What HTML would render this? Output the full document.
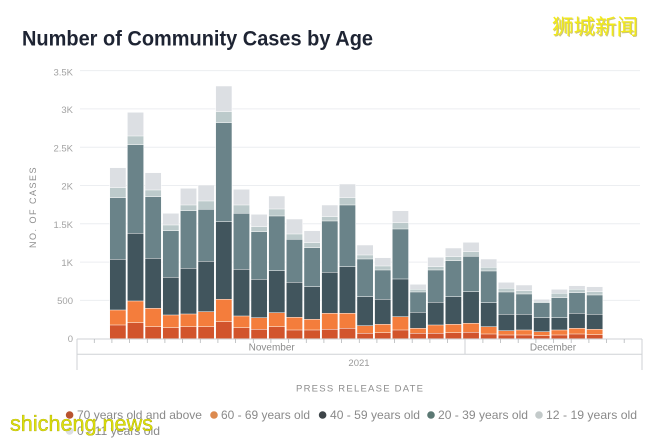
<!DOCTYPE html>
<html>
<head>
<meta charset="utf-8">
<style>
  html,body{margin:0;padding:0;background:#ffffff;}
  svg{display:block;}
  .a{fill:#dcdfe3;}
  .b{fill:#bccacb;}
  .c{fill:#6a8389;}
  .d{fill:#41555d;}
  .e{fill:#f47d3c;}
  .f{fill:#d2542c;}
  .bars rect{stroke:#ffffff;stroke-width:0.5;}
  .yl{font-family:"Liberation Sans",sans-serif;font-size:9.5px;fill:#a3a3a3;text-anchor:end;}
  .lg{font-family:"Liberation Sans",sans-serif;font-size:12px;fill:#8a8a8a;}
</style>
</head>
<body>
<svg width="650" height="441" viewBox="0 0 650 441" xmlns="http://www.w3.org/2000/svg">
  <rect x="0" y="0" width="650" height="441" fill="#ffffff"/>

  <!-- Title -->
  <text x="22" y="45.7" font-family="Liberation Sans, sans-serif" font-weight="bold" font-size="21" fill="#1e2433" textLength="351" lengthAdjust="spacingAndGlyphs">Number of Community Cases by Age</text>

  <!-- Watermark top right -->
  <text x="553" y="35" font-family="Liberation Sans, Noto Sans CJK SC, sans-serif" font-size="21" fill="#9a8a00" opacity="0.5" textLength="86" lengthAdjust="spacingAndGlyphs">狮城新闻</text>
  <text x="552" y="34" font-family="Liberation Sans, Noto Sans CJK SC, sans-serif" font-size="21" fill="#f2ea18" textLength="86" lengthAdjust="spacingAndGlyphs">狮城新闻</text>

  <!-- Gridlines -->
  <g stroke="#eceef1" stroke-width="1">
    <line x1="80" y1="300.4" x2="640" y2="300.4"/>
    <line x1="80" y1="262.1" x2="640" y2="262.1"/>
    <line x1="80" y1="223.8" x2="640" y2="223.8"/>
    <line x1="80" y1="185.5" x2="640" y2="185.5"/>
    <line x1="80" y1="147.2" x2="640" y2="147.2"/>
    <line x1="80" y1="108.9" x2="640" y2="108.9"/>
    <line x1="80" y1="70.6" x2="640" y2="70.6"/>
  </g>

  <!-- Y labels -->
  <text class="yl" x="73" y="342">0</text>
  <text class="yl" x="73" y="304">500</text>
  <text class="yl" x="73" y="266">1K</text>
  <text class="yl" x="73" y="228">1.5K</text>
  <text class="yl" x="73" y="189.5">2K</text>
  <text class="yl" x="73" y="151.5">2.5K</text>
  <text class="yl" x="73" y="113">3K</text>
  <text class="yl" x="73" y="75.5">3.5K</text>

  <text transform="translate(36,207) rotate(-90)" text-anchor="middle" font-family="Liberation Sans, sans-serif" font-size="9" fill="#8e8e8e" letter-spacing="1.5">NO. OF CASES</text>

  <!-- Bars -->
  <g class="bars">
    <g transform="translate(109.7,0)">
      <rect class="a" x="0" width="16.3" y="167.7" height="171"/>
      <rect class="b" x="0" width="16.3" y="187.7" height="151"/>
      <rect class="c" x="0" width="16.3" y="197.7" height="141"/>
      <rect class="d" x="0" width="16.3" y="259.3" height="79.4"/>
      <rect class="e" x="0" width="16.3" y="310" height="28.7"/>
      <rect class="f" x="0" width="16.3" y="325" height="13.7"/>
    </g>
    <g transform="translate(127.36,0)">
      <rect class="a" x="0" width="16.3" y="112.3" height="226.4"/>
      <rect class="b" x="0" width="16.3" y="136" height="202.7"/>
      <rect class="c" x="0" width="16.3" y="144.7" height="194"/>
      <rect class="d" x="0" width="16.3" y="233.3" height="105.4"/>
      <rect class="e" x="0" width="16.3" y="301" height="37.7"/>
      <rect class="f" x="0" width="16.3" y="322.7" height="16"/>
    </g>
    <g transform="translate(145.02,0)">
      <rect class="a" x="0" width="16.3" y="172.7" height="166"/>
      <rect class="b" x="0" width="16.3" y="190" height="148.7"/>
      <rect class="c" x="0" width="16.3" y="196.7" height="142"/>
      <rect class="d" x="0" width="16.3" y="258.3" height="80.4"/>
      <rect class="e" x="0" width="16.3" y="308.3" height="30.4"/>
      <rect class="f" x="0" width="16.3" y="326.7" height="12"/>
    </g>
    <g transform="translate(162.68,0)">
      <rect class="a" x="0" width="16.3" y="213.3" height="125.4"/>
      <rect class="b" x="0" width="16.3" y="225" height="113.7"/>
      <rect class="c" x="0" width="16.3" y="230.7" height="108"/>
      <rect class="d" x="0" width="16.3" y="277.3" height="61.4"/>
      <rect class="e" x="0" width="16.3" y="315" height="23.7"/>
      <rect class="f" x="0" width="16.3" y="327.7" height="11"/>
    </g>
    <g transform="translate(180.34,0)">
      <rect class="a" x="0" width="16.3" y="188.3" height="150.4"/>
      <rect class="b" x="0" width="16.3" y="205" height="133.7"/>
      <rect class="c" x="0" width="16.3" y="210.7" height="128"/>
      <rect class="d" x="0" width="16.3" y="268.3" height="70.4"/>
      <rect class="e" x="0" width="16.3" y="314" height="24.7"/>
      <rect class="f" x="0" width="16.3" y="326.7" height="12"/>
    </g>
    <g transform="translate(198.0,0)">
      <rect class="a" x="0" width="16.3" y="185" height="153.7"/>
      <rect class="b" x="0" width="16.3" y="201" height="137.7"/>
      <rect class="c" x="0" width="16.3" y="209.3" height="129.4"/>
      <rect class="d" x="0" width="16.3" y="261.3" height="77.4"/>
      <rect class="e" x="0" width="16.3" y="311.7" height="27"/>
      <rect class="f" x="0" width="16.3" y="326.7" height="12"/>
    </g>
    <g transform="translate(215.66,0)">
      <rect class="a" x="0" width="16.3" y="86" height="252.7"/>
      <rect class="b" x="0" width="16.3" y="111.7" height="227"/>
      <rect class="c" x="0" width="16.3" y="122.7" height="216"/>
      <rect class="d" x="0" width="16.3" y="221.7" height="117"/>
      <rect class="e" x="0" width="16.3" y="299.3" height="39.4"/>
      <rect class="f" x="0" width="16.3" y="321.7" height="17"/>
    </g>
    <g transform="translate(233.32,0)">
      <rect class="a" x="0" width="16.3" y="189.3" height="149.4"/>
      <rect class="b" x="0" width="16.3" y="205" height="133.7"/>
      <rect class="c" x="0" width="16.3" y="213.3" height="125.4"/>
      <rect class="d" x="0" width="16.3" y="269.3" height="69.4"/>
      <rect class="e" x="0" width="16.3" y="316" height="22.7"/>
      <rect class="f" x="0" width="16.3" y="327.7" height="11"/>
    </g>
    <g transform="translate(250.98,0)">
      <rect class="a" x="0" width="16.3" y="214.3" height="124.4"/>
      <rect class="b" x="0" width="16.3" y="226.7" height="112"/>
      <rect class="c" x="0" width="16.3" y="231.7" height="107"/>
      <rect class="d" x="0" width="16.3" y="279.3" height="59.4"/>
      <rect class="e" x="0" width="16.3" y="317.7" height="21"/>
      <rect class="f" x="0" width="16.3" y="329.3" height="9.4"/>
    </g>
    <g transform="translate(268.64,0)">
      <rect class="a" x="0" width="16.3" y="196" height="142.7"/>
      <rect class="b" x="0" width="16.3" y="209" height="129.7"/>
      <rect class="c" x="0" width="16.3" y="216" height="122.7"/>
      <rect class="d" x="0" width="16.3" y="270.7" height="68"/>
      <rect class="e" x="0" width="16.3" y="312.7" height="26"/>
      <rect class="f" x="0" width="16.3" y="326.7" height="12"/>
    </g>
    <g transform="translate(286.3,0)">
      <rect class="a" x="0" width="16.3" y="219" height="119.7"/>
      <rect class="b" x="0" width="16.3" y="234" height="104.7"/>
      <rect class="c" x="0" width="16.3" y="239.3" height="99.4"/>
      <rect class="d" x="0" width="16.3" y="282.3" height="56.4"/>
      <rect class="e" x="0" width="16.3" y="317.3" height="21.4"/>
      <rect class="f" x="0" width="16.3" y="330" height="8.7"/>
    </g>
    <g transform="translate(303.96,0)">
      <rect class="a" x="0" width="16.3" y="230.7" height="108"/>
      <rect class="b" x="0" width="16.3" y="242.7" height="96"/>
      <rect class="c" x="0" width="16.3" y="247.7" height="91"/>
      <rect class="d" x="0" width="16.3" y="286.7" height="52"/>
      <rect class="e" x="0" width="16.3" y="319.3" height="19.4"/>
      <rect class="f" x="0" width="16.3" y="330" height="8.7"/>
    </g>
    <g transform="translate(321.62,0)">
      <rect class="a" x="0" width="16.3" y="205" height="133.7"/>
      <rect class="b" x="0" width="16.3" y="216.7" height="122"/>
      <rect class="c" x="0" width="16.3" y="221" height="117.7"/>
      <rect class="d" x="0" width="16.3" y="272.3" height="66.4"/>
      <rect class="e" x="0" width="16.3" y="313.3" height="25.4"/>
      <rect class="f" x="0" width="16.3" y="329.3" height="9.4"/>
    </g>
    <g transform="translate(339.28,0)">
      <rect class="a" x="0" width="16.3" y="184" height="154.7"/>
      <rect class="b" x="0" width="16.3" y="197.7" height="141"/>
      <rect class="c" x="0" width="16.3" y="205" height="133.7"/>
      <rect class="d" x="0" width="16.3" y="266.7" height="72"/>
      <rect class="e" x="0" width="16.3" y="313.3" height="25.4"/>
      <rect class="f" x="0" width="16.3" y="328.3" height="10.4"/>
    </g>
    <g transform="translate(356.94,0)">
      <rect class="a" x="0" width="16.3" y="245" height="93.7"/>
      <rect class="b" x="0" width="16.3" y="255" height="83.7"/>
      <rect class="c" x="0" width="16.3" y="259" height="79.7"/>
      <rect class="d" x="0" width="16.3" y="296.7" height="42"/>
      <rect class="e" x="0" width="16.3" y="325.7" height="13"/>
      <rect class="f" x="0" width="16.3" y="333.3" height="5.4"/>
    </g>
    <g transform="translate(374.6,0)">
      <rect class="a" x="0" width="16.3" y="257.7" height="81"/>
      <rect class="b" x="0" width="16.3" y="266" height="72.7"/>
      <rect class="c" x="0" width="16.3" y="270" height="68.7"/>
      <rect class="d" x="0" width="16.3" y="299.3" height="39.4"/>
      <rect class="e" x="0" width="16.3" y="324.3" height="14.4"/>
      <rect class="f" x="0" width="16.3" y="332.7" height="6"/>
    </g>
    <g transform="translate(392.26,0)">
      <rect class="a" x="0" width="16.3" y="210.7" height="128"/>
      <rect class="b" x="0" width="16.3" y="222.7" height="116"/>
      <rect class="c" x="0" width="16.3" y="229" height="109.7"/>
      <rect class="d" x="0" width="16.3" y="279" height="59.7"/>
      <rect class="e" x="0" width="16.3" y="316.7" height="22"/>
      <rect class="f" x="0" width="16.3" y="330" height="8.7"/>
    </g>
    <g transform="translate(409.92,0)">
      <rect class="a" x="0" width="16.3" y="284.3" height="54.4"/>
      <rect class="b" x="0" width="16.3" y="289.3" height="49.4"/>
      <rect class="c" x="0" width="16.3" y="292" height="46.7"/>
      <rect class="d" x="0" width="16.3" y="312.3" height="26.4"/>
      <rect class="e" x="0" width="16.3" y="328.3" height="10.4"/>
      <rect class="f" x="0" width="16.3" y="333.3" height="5.4"/>
    </g>
    <g transform="translate(427.58,0)">
      <rect class="a" x="0" width="16.3" y="257.3" height="81.4"/>
      <rect class="b" x="0" width="16.3" y="266.7" height="72"/>
      <rect class="c" x="0" width="16.3" y="270" height="68.7"/>
      <rect class="d" x="0" width="16.3" y="302.3" height="36.4"/>
      <rect class="e" x="0" width="16.3" y="325" height="13.7"/>
      <rect class="f" x="0" width="16.3" y="333.3" height="5.4"/>
    </g>
    <g transform="translate(445.24,0)">
      <rect class="a" x="0" width="16.3" y="248" height="90.7"/>
      <rect class="b" x="0" width="16.3" y="256.7" height="82"/>
      <rect class="c" x="0" width="16.3" y="260.7" height="78"/>
      <rect class="d" x="0" width="16.3" y="296.7" height="42"/>
      <rect class="e" x="0" width="16.3" y="324.3" height="14.4"/>
      <rect class="f" x="0" width="16.3" y="332.7" height="6"/>
    </g>
    <g transform="translate(462.9,0)">
      <rect class="a" x="0" width="16.3" y="242.3" height="96.4"/>
      <rect class="b" x="0" width="16.3" y="251.7" height="87"/>
      <rect class="c" x="0" width="16.3" y="256.3" height="82.4"/>
      <rect class="d" x="0" width="16.3" y="291.7" height="47"/>
      <rect class="e" x="0" width="16.3" y="323.3" height="15.4"/>
      <rect class="f" x="0" width="16.3" y="332.3" height="6.4"/>
    </g>
    <g transform="translate(480.56,0)">
      <rect class="a" x="0" width="16.3" y="259" height="79.7"/>
      <rect class="b" x="0" width="16.3" y="267.3" height="71.4"/>
      <rect class="c" x="0" width="16.3" y="271" height="67.7"/>
      <rect class="d" x="0" width="16.3" y="302.7" height="36"/>
      <rect class="e" x="0" width="16.3" y="326.7" height="12"/>
      <rect class="f" x="0" width="16.3" y="334" height="4.7"/>
    </g>
    <g transform="translate(498.22,0)">
      <rect class="a" x="0" width="16.3" y="282.3" height="56.4"/>
      <rect class="b" x="0" width="16.3" y="288.3" height="50.4"/>
      <rect class="c" x="0" width="16.3" y="292" height="46.7"/>
      <rect class="d" x="0" width="16.3" y="314.3" height="24.4"/>
      <rect class="e" x="0" width="16.3" y="330.7" height="8"/>
      <rect class="f" x="0" width="16.3" y="335" height="3.7"/>
    </g>
    <g transform="translate(515.88,0)">
      <rect class="a" x="0" width="16.3" y="285" height="53.7"/>
      <rect class="b" x="0" width="16.3" y="290.7" height="48"/>
      <rect class="c" x="0" width="16.3" y="294" height="44.7"/>
      <rect class="d" x="0" width="16.3" y="314.3" height="24.4"/>
      <rect class="e" x="0" width="16.3" y="330" height="8.7"/>
      <rect class="f" x="0" width="16.3" y="335" height="3.7"/>
    </g>
    <g transform="translate(533.54,0)">
      <rect class="a" x="0" width="16.3" y="299.3" height="39.4"/>
      <rect class="b" x="0" width="16.3" y="301.3" height="37.4"/>
      <rect class="c" x="0" width="16.3" y="302.7" height="36"/>
      <rect class="d" x="0" width="16.3" y="317.7" height="21"/>
      <rect class="e" x="0" width="16.3" y="331.7" height="7"/>
      <rect class="f" x="0" width="16.3" y="335.7" height="3"/>
    </g>
    <g transform="translate(551.2,0)">
      <rect class="a" x="0" width="16.3" y="289.3" height="49.4"/>
      <rect class="b" x="0" width="16.3" y="293.3" height="45.4"/>
      <rect class="c" x="0" width="16.3" y="297.7" height="41"/>
      <rect class="d" x="0" width="16.3" y="317.7" height="21"/>
      <rect class="e" x="0" width="16.3" y="330" height="8.7"/>
      <rect class="f" x="0" width="16.3" y="335" height="3.7"/>
    </g>
    <g transform="translate(568.86,0)">
      <rect class="a" x="0" width="16.3" y="285.7" height="53"/>
      <rect class="b" x="0" width="16.3" y="289.3" height="49.4"/>
      <rect class="c" x="0" width="16.3" y="292.7" height="46"/>
      <rect class="d" x="0" width="16.3" y="313.3" height="25.4"/>
      <rect class="e" x="0" width="16.3" y="328.3" height="10.4"/>
      <rect class="f" x="0" width="16.3" y="334" height="4.7"/>
    </g>
    <g transform="translate(586.52,0)">
      <rect class="a" x="0" width="16.3" y="286.7" height="52"/>
      <rect class="b" x="0" width="16.3" y="291.7" height="47"/>
      <rect class="c" x="0" width="16.3" y="295" height="43.7"/>
      <rect class="d" x="0" width="16.3" y="314.3" height="24.4"/>
      <rect class="e" x="0" width="16.3" y="329.3" height="9.4"/>
      <rect class="f" x="0" width="16.3" y="334.7" height="4"/>
    </g>
  </g>

  <!-- X axis structure -->
  <g stroke="#cfd2d5" stroke-width="1" fill="none">
    <line x1="77" y1="339" x2="642" y2="339"/>
    <line x1="77" y1="354.3" x2="642" y2="354.3"/>
    <line x1="77" y1="339" x2="77" y2="370"/>
    <line x1="642" y1="339" x2="642" y2="370"/>
    <line x1="465" y1="339" x2="465" y2="354.3"/>
  </g>
  <g stroke="#b5b8bb" stroke-width="0.8">
    <line x1="94.3" y1="339" x2="94.3" y2="343"/>
    <line x1="111.9" y1="339" x2="111.9" y2="343"/>
    <line x1="129.6" y1="339" x2="129.6" y2="343"/>
    <line x1="147.3" y1="339" x2="147.3" y2="343"/>
    <line x1="164.9" y1="339" x2="164.9" y2="343"/>
    <line x1="182.6" y1="339" x2="182.6" y2="343"/>
    <line x1="200.3" y1="339" x2="200.3" y2="343"/>
    <line x1="217.9" y1="339" x2="217.9" y2="343"/>
    <line x1="235.6" y1="339" x2="235.6" y2="343"/>
    <line x1="253.3" y1="339" x2="253.3" y2="343"/>
    <line x1="270.9" y1="339" x2="270.9" y2="343"/>
    <line x1="288.6" y1="339" x2="288.6" y2="343"/>
    <line x1="306.3" y1="339" x2="306.3" y2="343"/>
    <line x1="323.9" y1="339" x2="323.9" y2="343"/>
    <line x1="341.6" y1="339" x2="341.6" y2="343"/>
    <line x1="359.3" y1="339" x2="359.3" y2="343"/>
    <line x1="376.9" y1="339" x2="376.9" y2="343"/>
    <line x1="394.6" y1="339" x2="394.6" y2="343"/>
    <line x1="412.2" y1="339" x2="412.2" y2="343"/>
    <line x1="429.9" y1="339" x2="429.9" y2="343"/>
    <line x1="447.6" y1="339" x2="447.6" y2="343"/>
    <line x1="482.9" y1="339" x2="482.9" y2="343"/>
    <line x1="500.6" y1="339" x2="500.6" y2="343"/>
    <line x1="518.2" y1="339" x2="518.2" y2="343"/>
    <line x1="535.9" y1="339" x2="535.9" y2="343"/>
    <line x1="553.6" y1="339" x2="553.6" y2="343"/>
    <line x1="571.2" y1="339" x2="571.2" y2="343"/>
    <line x1="588.9" y1="339" x2="588.9" y2="343"/>
    <line x1="606.5" y1="339" x2="606.5" y2="343"/>
    <line x1="624.2" y1="339" x2="624.2" y2="343"/>
  </g>
  <text x="271.7" y="350.5" text-anchor="middle" font-family="Liberation Sans, sans-serif" font-size="10" fill="#8c8c8c">November</text>
  <text x="553" y="350.5" text-anchor="middle" font-family="Liberation Sans, sans-serif" font-size="10" fill="#8c8c8c">December</text>
  <text x="359" y="366" text-anchor="middle" font-family="Liberation Sans, sans-serif" font-size="9.5" fill="#9a9a9a">2021</text>

  <text x="296" y="391.5" font-family="Liberation Sans, sans-serif" font-size="9.5" fill="#8e8e8e" textLength="127" lengthAdjust="spacing">PRESS RELEASE DATE</text>

  <!-- Legend -->
  <circle cx="69.6" cy="415" r="3.8" fill="#b8532f"/>
  <text class="lg" x="77" y="419.2" textLength="125" lengthAdjust="spacingAndGlyphs">70 years old and above</text>
  <circle cx="214" cy="415" r="3.8" fill="#dc8a4f"/>
  <text class="lg" x="221" y="419.2" textLength="89" lengthAdjust="spacingAndGlyphs">60 - 69 years old</text>
  <circle cx="322.6" cy="415" r="3.8" fill="#3e4549"/>
  <text class="lg" x="330" y="419.2" textLength="90" lengthAdjust="spacingAndGlyphs">40 - 59 years old</text>
  <circle cx="431" cy="415" r="3.8" fill="#5b7873"/>
  <text class="lg" x="438" y="419.2" textLength="90" lengthAdjust="spacingAndGlyphs">20 - 39 years old</text>
  <circle cx="539" cy="415" r="3.8" fill="#c3caca"/>
  <text class="lg" x="546" y="419.2" textLength="91" lengthAdjust="spacingAndGlyphs">12 - 19 years old</text>
  <circle cx="69.6" cy="431" r="3.8" fill="#dcdfe2"/>
  <text class="lg" x="77" y="435.2" textLength="83" lengthAdjust="spacingAndGlyphs">0 - 11 years old</text>

  <!-- Bottom watermark -->
  <text x="10" y="431" font-family="Liberation Sans, sans-serif" font-size="22" fill="#dfe30a" stroke="#9f9a00" stroke-width="0.35" textLength="143" lengthAdjust="spacingAndGlyphs">shicheng.news</text>
</svg>
</body>
</html>
